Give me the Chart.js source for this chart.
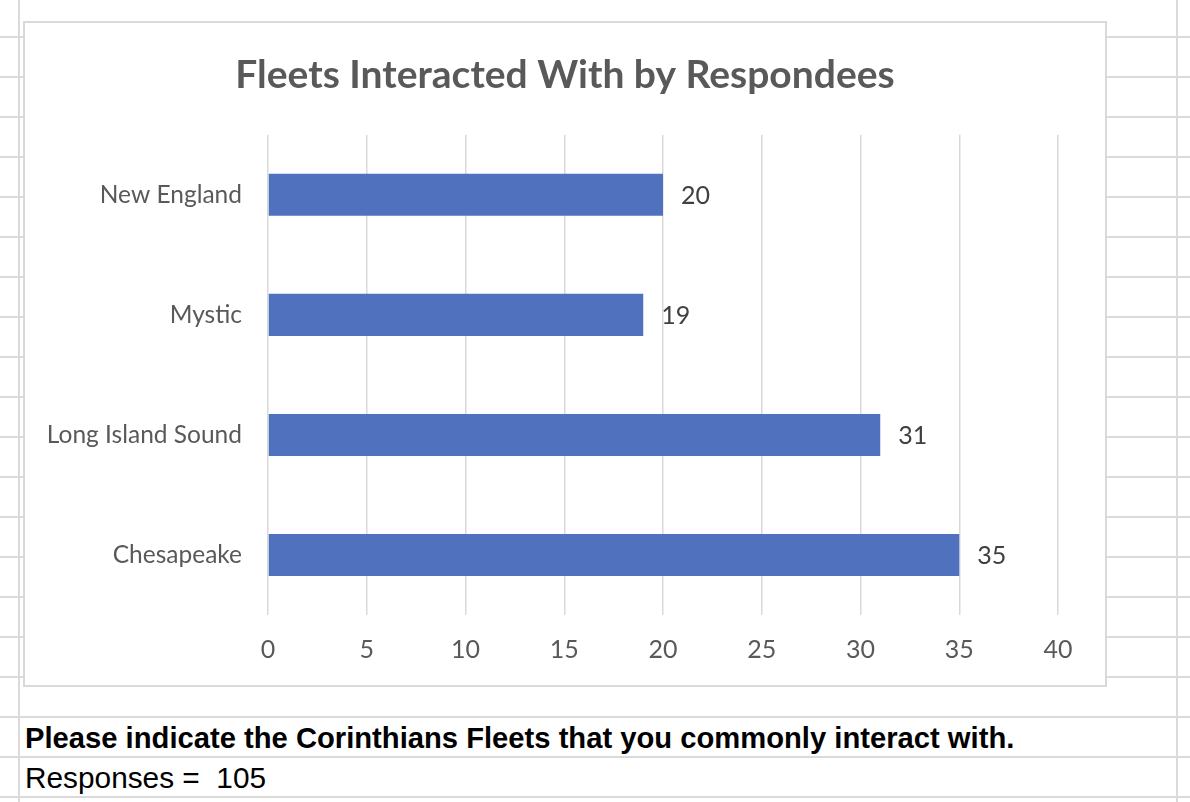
<!DOCTYPE html>
<html>
<head>
<meta charset="utf-8">
<script src="https://cdn.jsdelivr.net/npm/chart.js@4"></script>
<style>
  html, body { margin: 0; padding: 0; background: #fff; }
  #hoja { position: relative; width: 1190px; height: 802px; overflow: hidden; }
  .fila { position: absolute; left: 0; width: 1190px; height: 2px; background: #dadada; }
  .col { position: absolute; top: 0; width: 2px; height: 802px; background: #dadada; }
  #marco { position: absolute; left: 25px; top: 23px; width: 1080px; height: 662px;
           background: #fff; box-shadow: 0 0 0 2px #d9d9d9; }
  .celda { position: absolute; left: 25px; font-family: "Liberation Sans", Arial, sans-serif;
           color: #000; white-space: pre; line-height: 40px; }
  #pregunta { top: 718px; font-size: 29.2px; font-weight: bold; }
  #respuestas { top: 758px; font-size: 29.8px; }
</style>
</head>
<body>
<div id="hoja">
  <div id="marco"><canvas id="graficaFlotas" width="1080" height="662"></canvas></div>
  <div class="celda" id="pregunta">Please indicate the Corinthians Fleets that you commonly interact with.</div>
  <div class="celda" id="respuestas">Responses =  105</div>
</div>
<script>
const titulo = "Fleets Interacted With by Respondees";
const flotas = ["New England", "Mystic", "Long Island Sound", "Chesapeake"];
const respuestas = [20, 19, 31, 35];
const ticksX = [0, 5, 10, 15, 20, 25, 30, 35, 40];

// cuadricula de la hoja de calculo detras del grafico
function dibujarHoja() {
    const hoja = document.getElementById("hoja");
    const marco = document.getElementById("marco");
    for (let y = 37; y < 802; y += 40) {
        const f = document.createElement("div");
        f.className = "fila";
        f.style.top = (y - 1) + "px";
        hoja.insertBefore(f, marco);
    }
    [19, 1177].forEach(x => {
        const c = document.createElement("div");
        c.className = "col";
        c.style.left = (x - 1) + "px";
        hoja.insertBefore(c, marco);
    });
}

const etiquetasValor = {
    id: "etiquetasValor",
    afterDatasetsDraw(chart) {
        const ctx = chart.ctx;
        const meta = chart.getDatasetMeta(0);
        ctx.save();
        ctx.font = "25px Lato";
        ctx.fillStyle = "#404040";
        ctx.textAlign = "left";
        ctx.textBaseline = "middle";
        meta.data.forEach((barra, i) => {
            ctx.fillText(String(respuestas[i]), barra.x + 18, barra.y + 1);
        });
        ctx.restore();
    }
};

function cargarGrafico() {
    const ctx = document.getElementById("graficaFlotas").getContext("2d");
    new Chart(ctx, {
        type: "bar",
        data: {
            labels: flotas,
            datasets: [{
                label: "Respondees",
                data: respuestas,
                backgroundColor: "#4F71BE",
                borderWidth: 0,
                barPercentage: 0.35,
                categoryPercentage: 1
            }]
        },
        options: {
            indexAxis: "y",
            responsive: false,
            animation: false,
            layout: { padding: { top: 10, right: 0, bottom: 0, left: 0 } },
            plugins: {
                legend: { display: false },
                tooltip: { enabled: false },
                title: {
                    display: true,
                    text: titulo,
                    color: "#595959",
                    font: { family: "Lato", size: 39, weight: "bold" },
                    padding: { top: 19, bottom: 36 }
                }
            },
            scales: {
                x: {
                    min: ticksX[0],
                    max: ticksX[ticksX.length - 1],
                    afterBuildTicks: (eje) => { eje.ticks = ticksX.map(v => ({ value: v })); },
                    afterFit: (eje) => { eje.height = 70; },
                    grid: { color: "#d9d9d9", lineWidth: 1.5, drawTicks: false },
                    border: { display: false },
                    ticks: { color: "#595959", padding: 20, font: { family: "Lato", size: 25 } }
                },
                y: {
                    afterFit: (eje) => { eje.width = 243; },
                    grid: { display: false, drawTicks: false },
                    border: { display: false },
                    ticks: { color: "#595959", padding: 26, font: { family: "Lato", size: 24.5 } }
                },
                // eje vacio a la derecha: deja el margen sin descentrar el titulo
                margenDerecho: {
                    type: "category",
                    axis: "y",
                    position: "right",
                    afterFit: (eje) => { eje.width = 47; },
                    grid: { display: false, drawTicks: false },
                    border: { display: false },
                    ticks: { display: false }
                }
            }
        },
        plugins: [etiquetasValor]
    });
}

document.addEventListener("DOMContentLoaded", () => {
    dibujarHoja();
    cargarGrafico();
});
</script>
</body>
</html>
